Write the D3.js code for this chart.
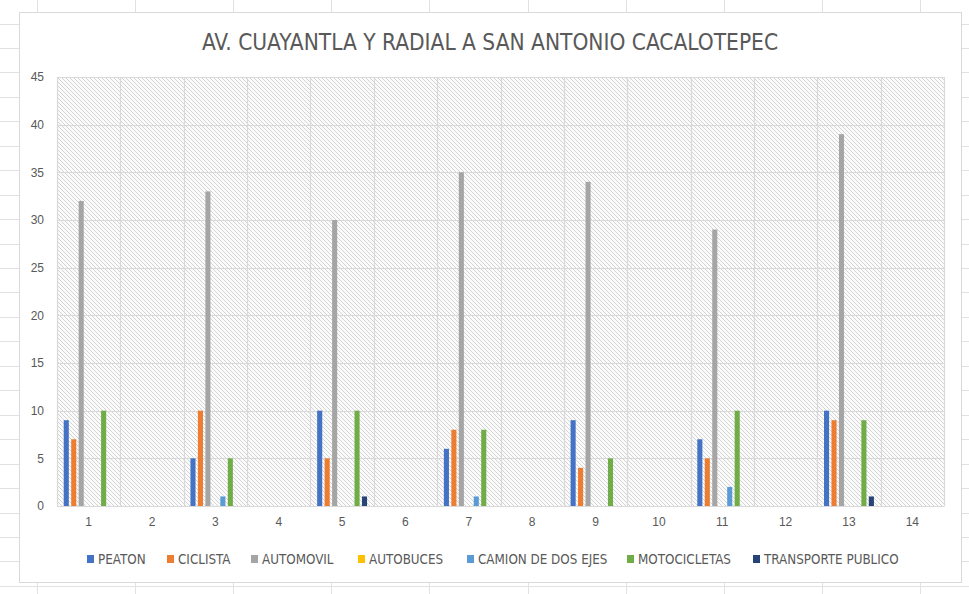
<!DOCTYPE html>
<html>
<head>
<meta charset="utf-8">
<script src="https://cdn.jsdelivr.net/npm/d3@7"></script>
<style>
  html, body { margin: 0; padding: 0; background: #fff; }
  svg { display: block; }
</style>
</head>
<body>
<div id="chart"></div>
<script>
// data
const categories = ["1","2","3","4","5","6","7","8","9","10","11","12","13","14"];
const seriesNames = ["PEATON","CICLISTA","AUTOMOVIL","AUTOBUCES","CAMION DE DOS EJES","MOTOCICLETAS","TRANSPORTE PUBLICO"];
const peaton     = [9,0,5,0,10,0,6,0,9,0,7,0,10,0];
const ciclista   = [7,0,10,0,5,0,8,0,4,0,5,0,9,0];
const automovil  = [32,0,33,0,30,0,35,0,34,0,29,0,39,0];
const autobuces  = [0,0,0,0,0,0,0,0,0,0,0,0,0,0];
const camion     = [0,0,1,0,0,0,1,0,0,0,2,0,0,0];
const motos      = [10,0,5,0,10,0,8,0,5,0,10,0,9,0];
const transporte = [0,0,0,0,1,0,0,0,0,0,0,0,1,0];
const yTicks = [0,5,10,15,20,25,30,35,40,45];
const colors = ["#4472C4","#ED7D31","#A5A5A5","#FFC000","#5B9BD5","#70AD47","#264478"];

const allSeries = [peaton, ciclista, automovil, autobuces, camion, motos, transporte];

let width = 969, height = 594;

let svg = d3.select("#chart").append("svg")
	.attr("width", width)
	.attr("height", height);

// spreadsheet cells behind the chart
let gSheet = svg.append("g").attr("stroke", "#e1e1e1").attr("stroke-width", 1);
d3.range(0, 10).forEach(i => {
	let x = Math.round(37 + i * 98.1) + 0.5;
	gSheet.append("line").attr("x1", x).attr("x2", x).attr("y1", 0).attr("y2", height);
});
d3.range(0, 25).forEach(i => {
	let y = Math.round(23.5 + i * 24.45) + 0.5;
	gSheet.append("line").attr("x1", 0).attr("x2", width).attr("y1", y).attr("y2", y);
});

// chart box
svg.append("rect")
	.attr("x", 19.5).attr("y", 12.5)
	.attr("width", 942).attr("height", 570)
	.attr("fill", "#fff")
	.attr("stroke", "#d9d9d9");

// hatch pattern for the plot area
let defs = svg.append("defs");
let pat = defs.append("pattern")
	.attr("id", "hatch")
	.attr("patternUnits", "userSpaceOnUse")
	.attr("width", 4).attr("height", 4);
pat.append("rect").attr("width", 4).attr("height", 4).attr("fill", "#fbfbfb");
pat.append("path")
	.attr("d", "M-1,-1 L5,5 M-1,3 L1,5 M3,-1 L5,1")
	.attr("stroke", "#cfcfcf")
	.attr("stroke-width", 0.9);

let plot = { left: 57, top: 77, right: 944, bottom: 506 };

let x = d3.scaleBand()
	.domain(categories)
	.range([plot.left, plot.right])
	.padding(0);

let xs = d3.scaleBand()
	.domain(d3.range(seriesNames.length))
	.range([0, x.bandwidth()])
	.paddingInner(0.32)
	.paddingOuter(0.9);

let y = d3.scaleLinear()
	.domain([0, 45])
	.range([plot.bottom, plot.top]);

svg.append("rect")
	.attr("x", plot.left).attr("y", plot.top)
	.attr("width", plot.right - plot.left)
	.attr("height", plot.bottom - plot.top)
	.attr("fill", "url(#hatch)");

// gridlines
let gGrid = svg.append("g").attr("stroke", "#d9d9d9").attr("stroke-width", 1.2);
yTicks.forEach(t => {
	gGrid.append("line")
		.attr("x1", plot.left).attr("x2", plot.right)
		.attr("y1", Math.round(y(t)) + 0.5).attr("y2", Math.round(y(t)) + 0.5);
});
categories.concat(["end"]).forEach((c, i) => {
	let xx = Math.round(plot.left + i * x.step()) + 0.5;
	gGrid.append("line")
		.attr("x1", xx).attr("x2", xx)
		.attr("y1", plot.top).attr("y2", plot.bottom);
});

// bars
let gBars = svg.append("g");
allSeries.forEach((vals, s) => {
	gBars.selectAll(null)
		.data(vals.map((v, i) => ({ cat: categories[i], v: v })))
		.enter().append("rect")
		.attr("x", d => x(d.cat) + xs(s))
		.attr("width", xs.bandwidth())
		.attr("y", d => y(d.v))
		.attr("height", d => y(0) - y(d.v))
		.attr("fill", colors[s]);
});

// axes
let yAxis = d3.axisLeft(y).tickValues(yTicks).tickSize(0).tickPadding(13);
let gy = svg.append("g")
	.attr("transform", "translate(" + plot.left + ",0)")
	.call(yAxis);
gy.select(".domain").remove();
gy.selectAll("text")
	.attr("fill", "#595959")
	.style("font-family", "'Liberation Sans', Arial, sans-serif")
	.style("font-size", "12px");

let xAxis = d3.axisBottom(x).tickSize(0).tickPadding(11);
let gx = svg.append("g")
	.attr("transform", "translate(0," + plot.bottom + ")")
	.call(xAxis);
gx.select(".domain").attr("stroke", "#d9d9d9").attr("stroke-width", 1.2);
gx.selectAll("text")
	.attr("fill", "#595959")
	.style("font-family", "'Liberation Sans', Arial, sans-serif")
	.style("font-size", "12px");

// title
svg.append("text")
	.attr("x", 490).attr("y", 50)
	.attr("text-anchor", "middle")
	.attr("fill", "#595959")
	.style("font-family", "'Liberation Sans Narrow', 'DejaVu Sans Condensed', sans-serif")
	.style("font-size", "22.5px")
	.text("AV. CUAYANTLA Y RADIAL A SAN ANTONIO CACALOTEPEC");

// legend
let legendX = [87, 167, 251, 358, 467, 627, 753];
let gLeg = svg.append("g");
seriesNames.forEach((name, i) => {
	gLeg.append("rect")
		.attr("x", legendX[i]).attr("y", 555)
		.attr("width", 7).attr("height", 8)
		.attr("fill", colors[i]);
	gLeg.append("text")
		.attr("x", legendX[i] + 11).attr("y", 564)
		.attr("fill", "#595959")
		.style("font-family", "'Liberation Sans Narrow', 'DejaVu Sans Condensed', sans-serif")
		.style("font-size", "13.3px")
		.text(name);
});
</script>
</body>
</html>
